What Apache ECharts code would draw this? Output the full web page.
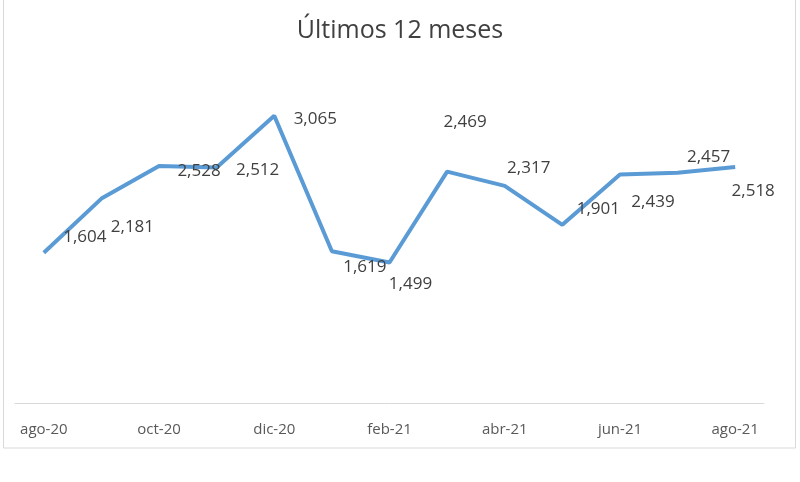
<!DOCTYPE html>
<html><head><meta charset="utf-8">
<script src="https://cdn.jsdelivr.net/npm/echarts@6/dist/echarts.min.js"></script>
<style>html,body{margin:0;padding:0;background:#fff}#c{width:800px;height:482px}</style>
</head><body><div id="c"></div>
<script>
const categories = ['ago-20','sep-20','oct-20','nov-20','dic-20','ene-21','feb-21','mar-21','abr-21','may-21','jun-21','jul-21','ago-21'];
const values = [1604, 2181, 2528, 2512, 3065, 1619, 1499, 2469, 2317, 1901, 2439, 2457, 2518];
const title = 'Últimos 12 meses';
// label offsets (as placed in the source chart)
const labelOffsets = [[41,-16],[31,29],[40,5],[41,3],[41,3],[33,16],[21,22],[18,-49],[24,-18],[36,-16],[33,28],[31,-16],[18,24]];

const chart = echarts.init(document.getElementById('c'));
const fmt = v => v.toLocaleString('en-US');
chart.setOption({
  animation: false,
  title: {text: title, left: 'center', top: 13, textStyle: {fontFamily: 'Open Sans', fontSize: 25, fontWeight: 'normal', color: '#404040'}},
  grid: {left: 15, right: 36, top: 75, bottom: 79},
  graphic: [{type: 'rect', shape: {x: 3.5, y: -5, width: 792, height: 453}, style: {fill: 'none', stroke: '#d9d9d9', lineWidth: 1}, silent: true}],
  xAxis: {type: 'category', data: categories, boundaryGap: true,
    axisLine: {lineStyle: {color: '#d9d9d9', width: 1}}, axisTick: {show: false},
    axisLabel: {interval: 1, color: '#595959', fontFamily: 'Open Sans', fontSize: 15, margin: 19}},
  yAxis: {type: 'value', min: 0, max: 3500, show: false, splitLine: {show: false}},
  series: [{type: 'line', data: values.map((v, i) => ({value: v, label: {offset: labelOffsets[i]}})),
    symbol: 'circle', symbolSize: 0, showSymbol: true, lineStyle: {color: '#5b9bd5', width: 4}, itemStyle: {color: '#5b9bd5'},
    label: {show: true, position: 'inside', formatter: p => fmt(p.value), color: '#404040', fontFamily: 'Open Sans', fontSize: 17}}]
});
</script></body></html>
